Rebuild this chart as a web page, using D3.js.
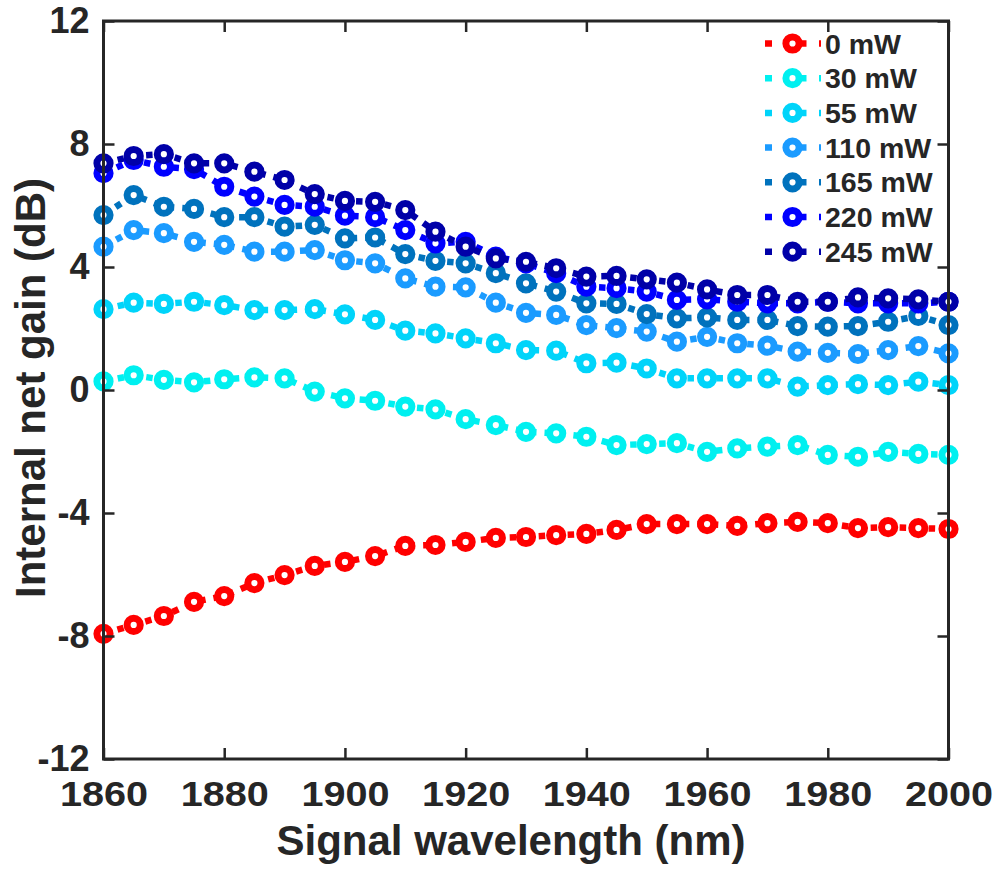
<!DOCTYPE html>
<html>
<head>
<meta charset="utf-8">
<script src="https://cdn.jsdelivr.net/npm/d3@7"></script>
<style>
  html, body { margin: 0; padding: 0; background: #fff; }
  svg { display: block; }
  text { font-family: "Liberation Sans", Arial, sans-serif; font-weight: bold; fill: #262626; }
</style>
</head>
<body>
<svg id="chart" width="993" height="869"></svg>
<script>
// Signal wavelengths (nm), one point every 5 nm
const wavelengths = d3.range(1860, 2001, 5);

// Pump powers shown in the legend
const pumpLabels = ["0 mW", "30 mW", "55 mW", "110 mW", "165 mW", "220 mW", "245 mW"];
const pumpColors = ["#ff0000", "#00f0f0", "#00d4fa", "#1b9bff", "#0072bd", "#0000ff", "#0000a8"];

// Internal net gain (dB) for each pump power
const gain0 = [-7.93, -7.64, -7.35, -6.89, -6.70, -6.28, -6.02, -5.72, -5.59, -5.40, -5.07, -5.04, -4.94, -4.81, -4.78,
               -4.72, -4.68, -4.55, -4.36, -4.36, -4.36, -4.42, -4.33, -4.29, -4.33, -4.49, -4.46, -4.49, -4.52];
const gain30 = [0.28, 0.48, 0.33, 0.25, 0.35, 0.41, 0.38, -0.05, -0.27, -0.35, -0.54, -0.63, -0.95, -1.14, -1.36,
                -1.41, -1.52, -1.79, -1.76, -1.73, -2.01, -1.90, -1.84, -1.79, -2.11, -2.17, -2.01, -2.08, -2.11];
const gain55 = [2.63, 2.84, 2.80, 2.87, 2.76, 2.60, 2.60, 2.63, 2.46, 2.28, 1.93, 1.84, 1.68, 1.52, 1.30,
                1.28, 0.87, 0.89, 0.70, 0.38, 0.38, 0.38, 0.38, 0.11, 0.16, 0.19, 0.16, 0.27, 0.16];
const gain110 = [4.66, 5.20, 5.10, 4.82, 4.72, 4.50, 4.50, 4.55, 4.22, 4.12, 3.63, 3.36, 3.34, 2.84, 2.51,
                 2.44, 2.11, 2.01, 1.90, 1.57, 1.73, 1.52, 1.44, 1.25, 1.21, 1.17, 1.30, 1.43, 1.19];
const gain165 = [5.69, 6.34, 5.96, 5.89, 5.62, 5.62, 5.31, 5.37, 4.93, 4.96, 4.42, 4.20, 4.12, 3.80, 3.47,
                 3.20, 2.82, 2.80, 2.47, 2.33, 2.36, 2.28, 2.28, 2.08, 2.06, 2.08, 2.22, 2.41, 2.11];
const gain220 = [7.05, 7.48, 7.26, 7.18, 6.61, 6.29, 6.02, 5.96, 5.67, 5.62, 5.20, 4.77, 4.82, 4.34, 4.12,
                 3.80, 3.36, 3.31, 3.20, 2.93, 2.95, 2.87, 2.82, 2.82, 2.87, 2.82, 2.82, 2.82, 2.87];
const gain245 = [7.37, 7.61, 7.67, 7.37, 7.37, 7.10, 6.83, 6.37, 6.15, 6.12, 5.85, 5.15, 4.66, 4.28, 4.17,
                 3.96, 3.69, 3.71, 3.60, 3.49, 3.27, 3.09, 3.09, 2.87, 2.87, 3.01, 2.98, 2.95, 2.87];

// Axis ticks
const xTicks = [1860, 1880, 1900, 1920, 1940, 1960, 1980, 2000];
const yTicks = [-12, -8, -4, 0, 4, 8, 12];

const allGains = [gain0, gain30, gain55, gain110, gain165, gain220, gain245];
const series = pumpLabels.map((label, i) => ({
  label,
  color: pumpColors[i],
  points: wavelengths.map((w, j) => ({ x: w, y: allGains[i][j] }))
}));

const svg = d3.select("#chart");
const plotLeft = 103.5, plotRight = 948.5, plotTop = 21, plotBottom = 759;
const axisColor = "#262626";

const x = d3.scaleLinear().domain([1860, 2000]).range([plotLeft, plotRight]);
const y = d3.scaleLinear().domain([-12, 12]).range([plotBottom, plotTop]);

const lineW = 6.5, dash = "6.5,8";
const markerR = 6.6, markerW = 7;

// Series: dotted connecting line, then open circle markers
const line = d3.line().x(d => x(d.x)).y(d => y(d.y));
const plot = svg.append("g");
series.forEach(s => {
  const g = plot.append("g");
  g.append("path")
    .datum(s.points)
    .attr("d", line)
    .attr("fill", "none")
    .attr("stroke", s.color)
    .attr("stroke-width", lineW)
    .attr("stroke-dasharray", dash);
  g.selectAll("circle")
    .data(s.points)
    .join("circle")
    .attr("cx", d => x(d.x))
    .attr("cy", d => y(d.y))
    .attr("r", markerR)
    .attr("fill", "#fff")
    .attr("stroke", s.color)
    .attr("stroke-width", markerW);
});

// Axes with inward ticks on all four sides
const tickLen = 11;
const axisFont = 36;
const plainNumber = d => String(d);
const styleAxis = g => {
  g.select(".domain").remove();
  g.selectAll(".tick line").attr("stroke", axisColor).attr("stroke-width", 2.5);
  g.selectAll(".tick text")
    .attr("font-family", '"Liberation Sans", Arial, sans-serif')
    .attr("font-weight", "bold")
    .attr("font-size", axisFont)
    .attr("fill", axisColor);
};

svg.append("g")
  .attr("transform", `translate(0,${plotBottom})`)
  .call(d3.axisBottom(x).tickValues(xTicks).tickFormat(plainNumber)
    .tickSizeInner(-tickLen).tickSizeOuter(0).tickPadding(21))
  .call(styleAxis)
  .call(g => g.selectAll(".tick text").attr("transform", "scale(1.1,1)"));

svg.append("g")
  .attr("transform", `translate(0,${plotTop})`)
  .call(d3.axisTop(x).tickValues(xTicks).tickFormat("")
    .tickSizeInner(-tickLen).tickSizeOuter(0))
  .call(styleAxis);

svg.append("g")
  .attr("transform", `translate(${plotLeft},0)`)
  .call(d3.axisLeft(y).tickValues(yTicks).tickFormat(plainNumber)
    .tickSizeInner(-tickLen).tickSizeOuter(0).tickPadding(14))
  .call(styleAxis);

svg.append("g")
  .attr("transform", `translate(${plotRight},0)`)
  .call(d3.axisRight(y).tickValues(yTicks).tickFormat("")
    .tickSizeInner(-tickLen).tickSizeOuter(0))
  .call(styleAxis);

// Frame
svg.append("rect")
  .attr("x", plotLeft).attr("y", plotTop)
  .attr("width", plotRight - plotLeft).attr("height", plotBottom - plotTop)
  .attr("fill", "none")
  .attr("stroke", axisColor)
  .attr("stroke-width", 3);

// Axis titles
svg.append("text")
  .attr("x", 511)
  .attr("y", 855)
  .attr("text-anchor", "middle")
  .attr("font-size", 42)
  .text("Signal wavelength (nm)");

svg.append("text")
  .attr("transform", `translate(45,388) rotate(-90)`)
  .attr("text-anchor", "middle")
  .attr("font-size", 42)
  .text("Internal net gain (dB)");

// Legend
const legend = svg.append("g");
const legY0 = 43.5, legDy = 34.7;
series.forEach((s, i) => {
  const ly = legY0 + i * legDy;
  const row = legend.append("g");
  row.append("line")
    .attr("x1", 765).attr("x2", 821)
    .attr("y1", ly).attr("y2", ly)
    .attr("stroke", s.color)
    .attr("stroke-width", lineW)
    .attr("stroke-dasharray", "7,12.5,22,12.5,7");
  row.append("circle")
    .attr("cx", 792.5).attr("cy", ly)
    .attr("r", markerR)
    .attr("fill", "#fff")
    .attr("stroke", s.color)
    .attr("stroke-width", markerW);
  row.append("text")
    .attr("x", 825)
    .attr("y", ly + 10)
    .attr("font-size", 28.5)
    .attr("fill", "#000")
    .text(s.label);
});
</script>
</body>
</html>
